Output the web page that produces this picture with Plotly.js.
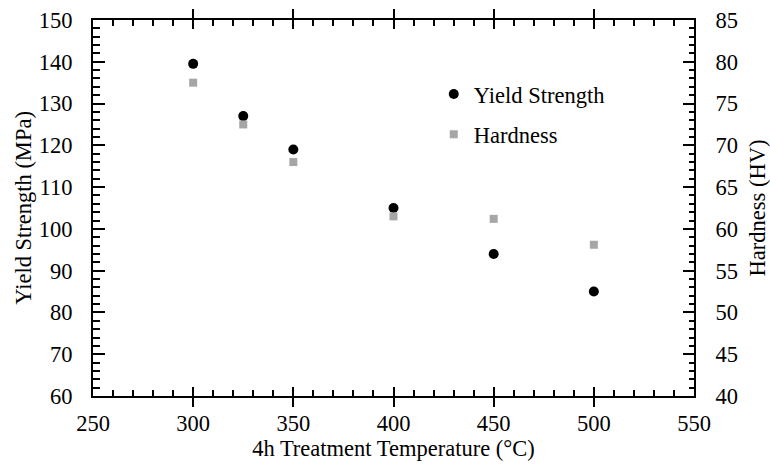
<!DOCTYPE html>
<html>
<head>
<meta charset="utf-8">
<script src="https://cdn.plot.ly/plotly-3.0.1.min.js"></script>
<style>html,body{margin:0;padding:0;background:#fff;}</style>
</head>
<body>
<div id="chart" style="width:770px;height:469px;"></div>
<script>
const temperature = [300, 325, 350, 400, 450, 500];
const yieldStrength = [139.5, 127, 119, 105, 94, 85];
const hardness = [77.5, 72.5, 68, 61.5, 61.2, 58.1];
const seriesNames = ["Yield Strength", "Hardness"];
const xTitle = "4h Treatment Temperature (°C)";
const y1Title = "Yield Strength (MPa)";
const y2Title = "Hardness (HV)";

const FAM = "Liberation Serif, Times New Roman, serif";
const font = {family: FAM, size: 22.5, color: "#000"};

const traces = [
  {x: temperature, y: yieldStrength, name: seriesNames[0], type: "scatter", mode: "markers",
   legendgroup: "a", marker: {symbol: "circle", size: 10, color: "#000"}, yaxis: "y"},
  {x: temperature, y: hardness, name: seriesNames[1], type: "scatter", mode: "markers",
   legendgroup: "b", marker: {symbol: "square", size: 8, color: "#a6a6a6"}, yaxis: "y2"},
  // empty helper traces so the minor-tick axes get drawn
  {x: [], y: [], type: "scatter", mode: "markers", xaxis: "x2", yaxis: "y", showlegend: false, hoverinfo: "skip"},
  {x: [], y: [], type: "scatter", mode: "markers", xaxis: "x", yaxis: "y3", showlegend: false, hoverinfo: "skip"},
  {x: [], y: [], type: "scatter", mode: "markers", xaxis: "x", yaxis: "y4", showlegend: false, hoverinfo: "skip"}
];

function axis(extra) {
  return Object.assign({
    showgrid: false, zeroline: false, showline: true, linecolor: "#000", linewidth: 2,
    ticks: "inside", tickwidth: 2, tickcolor: "#000", tickmode: "linear",
    tickfont: {family: FAM, size: 22.5, color: "#000"}
  }, extra);
}

const layout = {
  width: 770, height: 469,
  margin: {l: 93, r: 76, t: 20, b: 73},
  paper_bgcolor: "#fff", plot_bgcolor: "#fff",
  font: font,
  showlegend: true,
  legend: {x: 0.567, y: 0.749, xanchor: "left", yanchor: "middle", bgcolor: "rgba(0,0,0,0)",
           font: font, traceorder: "grouped", tracegroupgap: 8, itemwidth: 30},
  xaxis: axis({
    range: [250, 550], dtick: 50, tick0: 250, ticklen: 9, mirror: "allticks",
    ticklabelstandoff: 6,
    title: {text: xTitle, font: font, standoff: 1}
  }),
  xaxis2: axis({
    range: [250, 550], dtick: 10, tick0: 250, ticklen: 6, mirror: "allticks",
    overlaying: "x", anchor: "y", side: "bottom", showticklabels: false, tickwidth: 1.5
  }),
  yaxis: axis({
    range: [60, 150], dtick: 10, tick0: 60, ticklen: 12, anchor: "x",
    ticklabelstandoff: 14,
    title: {text: y1Title, font: font, standoff: 1}
  }),
  yaxis3: axis({
    range: [60, 150], dtick: 2, tick0: 60, ticklen: 7, anchor: "x",
    overlaying: "y", side: "left", showticklabels: false, tickwidth: 1.5
  }),
  yaxis2: axis({
    range: [40, 85], dtick: 5, tick0: 40, ticklen: 11, anchor: "x", overlaying: "y", side: "right",
    ticklabelstandoff: 15,
    title: {text: y2Title, font: font, standoff: 12}
  }),
  yaxis4: axis({
    range: [40, 85], dtick: 1, tick0: 40, ticklen: 5, anchor: "x", overlaying: "y", side: "right",
    showticklabels: false, tickwidth: 1.5
  })
};

Plotly.newPlot("chart", traces, layout, {displayModeBar: false});
</script>
</body>
</html>
